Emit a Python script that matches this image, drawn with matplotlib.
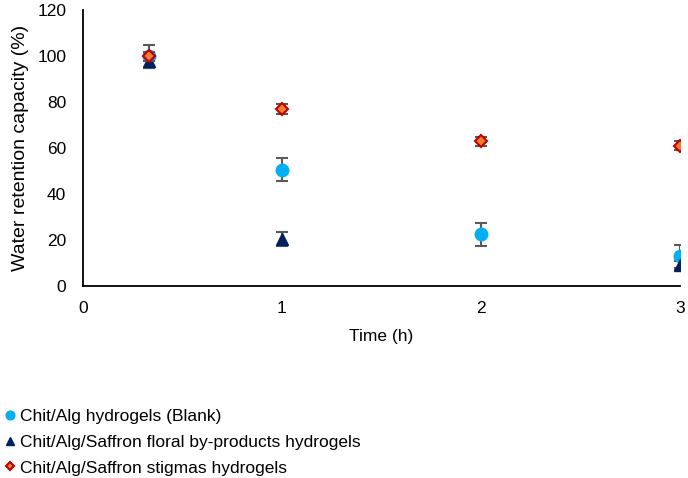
import matplotlib
matplotlib.use('Agg')
import matplotlib.pyplot as plt

plt.rcParams['font.family'] = ['Liberation Sans', 'DejaVu Sans']

# time points (h)
t = [0.33, 1, 2, 3]
blank = [100, 50.5, 22.5, 13]
blank_err = [5, 5, 5, 5]
floral = [98, 20.5, None, 9]
floral_err = [3, 3, 0, 2]
stigma = [100, 77, 63, 61]
stigma_err = [2, 2, 2, 2]

fig = plt.figure(figsize=(6.88, 4.78), dpi=100)
ax = fig.add_axes([0.1206, 0.4017, 0.8674, 0.577])

ecol = '#595959'
ax.errorbar(t, blank, yerr=blank_err, fmt='o', color='#00B0F0', ms=9,
            ecolor=ecol, elinewidth=1.5, capsize=4, capthick=1.5,
            label='Chit/Alg hydrogels (Blank)', zorder=3)
tf = [x for x, v in zip(t, floral) if v is not None]
vf = [v for v in floral if v is not None]
ef = [e for e, v in zip(floral_err, floral) if v is not None]
ax.errorbar(tf, vf, yerr=ef, fmt='^', color='#002060', ms=9,
            ecolor=ecol, elinewidth=1.5, capsize=4, capthick=1.5,
            label='Chit/Alg/Saffron floral by-products hydrogels', zorder=3)
ax.errorbar(t, stigma, yerr=stigma_err, fmt='D', mfc='#ED7D31', mec='#C00000',
            mew=1.5, ms=6.5, ecolor=ecol, elinewidth=1.5, capsize=4, capthick=1.5,
            label='Chit/Alg/Saffron stigmas hydrogels', zorder=4)

ax.set_xlim(0, 3)
ax.set_ylim(0, 120)
ax.set_xticks([0, 1, 2, 3])
ax.set_yticks(range(0, 121, 20))
ax.tick_params(length=0, labelsize=12.5)
ax.tick_params(axis='x', pad=11)
ax.tick_params(axis='y', pad=12)
for s in ['top', 'right']:
    ax.spines[s].set_visible(False)
for s in ['left', 'bottom']:
    ax.spines[s].set_linewidth(1.3)
ax.set_xlabel('Time (h)', fontsize=12.5, labelpad=9)
ax.set_ylabel('Water retention capacity (%)', fontsize=14, labelpad=6)

h, l = ax.get_legend_handles_labels()
h = [x[0] for x in h]
fig.legend(h, l, loc='lower left', bbox_to_anchor=(-0.003, -0.004), frameon=False,
           fontsize=12.5, handletextpad=0.1, handlelength=0.9, labelspacing=0.6,
           markerscale=0.7, borderaxespad=0.1, borderpad=0.15)

fig.savefig('out.png', dpi=100)
